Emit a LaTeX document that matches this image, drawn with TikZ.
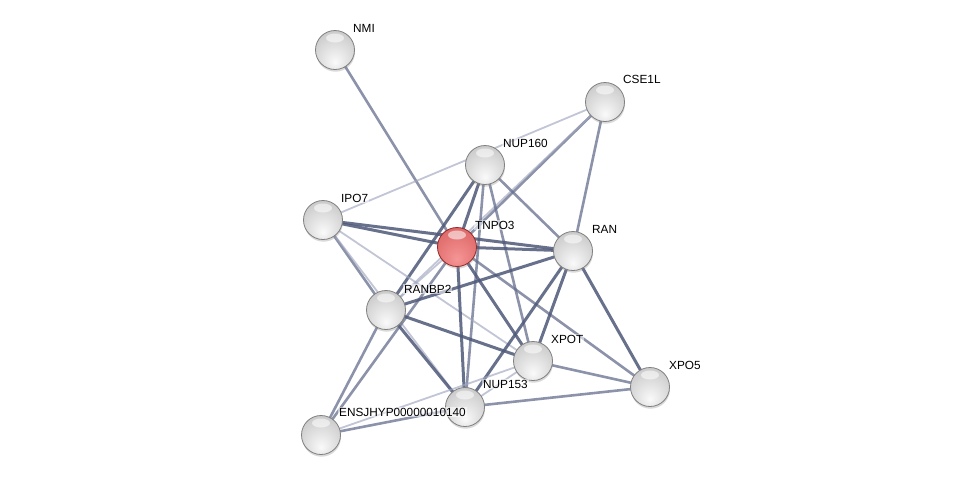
\documentclass[tikz,border=0pt]{standalone}
\usepackage{fontspec}
\newfontfamily\labfont{Liberation Sans}
\usetikzlibrary{shadows}
\pgfdeclarelayer{background}
\pgfsetlayers{background,main}
\definecolor{edgeT}{RGB}{78,88,120}
\definecolor{edgeM}{RGB}{100,110,140}
\definecolor{edgeL}{RGB}{160,166,190}
\definecolor{redrim}{RGB}{150,40,40}
\pgfdeclareradialshading{spherew}{\pgfpoint{0bp}{-16bp}}{color(0bp)=(white!98!black); color(14bp)=(white!90!black); color(34bp)=(white!79!black); color(50bp)=(white!70!black); color(70bp)=(white!60!black)}
\pgfdeclareradialshading{spherer}{\pgfpoint{0bp}{-16bp}}{color(0bp)=(rgb,255:red,245;green,150;blue,150); color(20bp)=(rgb,255:red,232;green,122;blue,122); color(40bp)=(rgb,255:red,215;green,98;blue,98); color(55bp)=(rgb,255:red,195;green,75;blue,75); color(70bp)=(rgb,255:red,170;green,50;blue,50)}
\tikzset{
  ballbase/.style={circle, minimum size=39pt, inner sep=0pt, line width=0.8pt,
    drop shadow={shadow xshift=0.5pt, shadow yshift=-2.2pt, opacity=0.3},
    path picture={\fill[white,opacity=0.55] ([yshift=12pt]path picture bounding box.center) ellipse (9pt and 4.5pt);}},
  ballw/.style={ballbase, shading=spherew, draw=white!50!black},
  ballr/.style={ballbase, shading=spherer, draw=redrim},
  lab/.style={anchor=west, font=\labfont\fontsize{11.8}{13}\selectfont, text=black, fill=white, fill opacity=0.55, text opacity=1, inner sep=1pt},
  eT/.style={draw=edgeT, line width=3pt, opacity=0.85},
  eM/.style={draw=edgeM, line width=2.6pt, opacity=0.75},
  eL/.style={draw=edgeL, line width=1.8pt, opacity=0.65}
}
\begin{document}
\begin{tikzpicture}[x=1pt,y=-1pt]
\useasboundingbox (0,0) rectangle (975,480);
\node[ballw] (NMI) at (335,50) {};
\node[ballw] (CSE1L) at (605,102) {};
\node[ballw] (NUP160) at (485,165) {};
\node[ballw] (IPO7) at (323,220) {};
\node[ballr] (TNPO3) at (457,247) {};
\node[ballw] (RAN) at (573,251) {};
\node[ballw] (RANBP2) at (386,310) {};
\node[ballw] (XPOT) at (533,361) {};
\node[ballw] (XPO5) at (650,387) {};
\node[ballw] (NUP153) at (465,407) {};
\node[ballw] (ENS) at (321,435) {};

\begin{pgfonlayer}{background}
\path[eM] (NMI.center) -- (TNPO3.center);
\path[eL] (CSE1L.center) -- (IPO7.center);
\path[eM] (CSE1L.center) -- (TNPO3.center);
\path[eL] (CSE1L.center) -- (RANBP2.center);
\path[eM] (CSE1L.center) -- (RAN.center);
\path[eT] (NUP160.center) -- (TNPO3.center);
\path[eT] (NUP160.center) -- (RANBP2.center);
\path[eM] (NUP160.center) -- (NUP153.center);
\path[eM] (NUP160.center) -- (XPOT.center);
\path[eM] (NUP160.center) -- (RAN.center);
\path[eT] (IPO7.center) -- (TNPO3.center);
\path[eT] (IPO7.center) -- (RAN.center);
\path[eM] (IPO7.center) -- (RANBP2.center);
\path[eL] (IPO7.center) -- (NUP153.center);
\path[eL] (IPO7.center) -- (XPOT.center);
\path[eT] (TNPO3.center) -- (RAN.center);
\path[eL] (TNPO3.center) -- (RANBP2.center);
\path[eT] (TNPO3.center) -- (XPOT.center);
\path[eT] (TNPO3.center) -- (NUP153.center);
\path[eM] (TNPO3.center) -- (XPO5.center);
\path[eM] (TNPO3.center) -- (ENS.center);
\path[eT] (RAN.center) -- (RANBP2.center);
\path[eT] (RAN.center) -- (XPOT.center);
\path[eT] (RAN.center) -- (NUP153.center);
\path[eT] (RAN.center) -- (XPO5.center);
\path[eT] (RANBP2.center) -- (XPOT.center);
\path[eT] (RANBP2.center) -- (NUP153.center);
\path[eM] (RANBP2.center) -- (ENS.center);
\path[eM] (XPOT.center) -- (XPO5.center);
\path[eL] (XPOT.center) -- (NUP153.center);
\path[eL] (XPOT.center) -- (ENS.center);
\path[eM] (NUP153.center) -- (XPO5.center);
\path[eM] (NUP153.center) -- (ENS.center);
\end{pgfonlayer}

\node[lab] (lNMI) at ([xshift=17pt,yshift=22pt]NMI.center) {NMI};
\node[lab] (lCSE1L) at ([xshift=17pt,yshift=23pt]CSE1L.center) {CSE1L};
\node[lab] (lNUP160) at ([xshift=17pt,yshift=22pt]NUP160.center) {NUP160};
\node[lab] (lIPO7) at ([xshift=17pt,yshift=22pt]IPO7.center) {IPO7};
\node[lab] (lTNPO3) at ([xshift=17pt,yshift=22pt]TNPO3.center) {TNPO3};
\node[lab] (lRAN) at ([xshift=18pt,yshift=22pt]RAN.center) {RAN};
\node[lab] (lRANBP2) at ([xshift=17pt,yshift=21pt]RANBP2.center) {RANBP2};
\node[lab] (lXPOT) at ([xshift=17pt,yshift=22pt]XPOT.center) {XPOT};
\node[lab] (lXPO5) at ([xshift=18pt,yshift=22pt]XPO5.center) {XPO5};
\node[lab] (lNUP153) at ([xshift=17pt,yshift=23pt]NUP153.center) {NUP153};
\node[lab] (lENS) at ([xshift=17pt,yshift=23pt]ENS.center) {ENSJHYP00000010140};
\end{tikzpicture}
\end{document}
